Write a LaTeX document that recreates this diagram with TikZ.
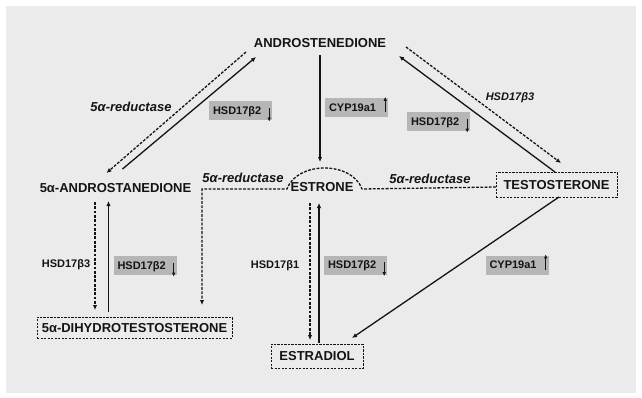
\documentclass[tikz,border=0pt]{standalone}
\usepackage{fontspec}
\setmainfont{Liberation Sans}
\usetikzlibrary{arrows.meta}
\definecolor{bg}{RGB}{235,235,235}
\definecolor{gb}{RGB}{182,182,182}
\definecolor{ink}{RGB}{20,20,20}
\tikzset{
 lbl/.style={text=ink,inner sep=0pt,font=\fontsize{13}{15}\selectfont\bfseries,text height=9.3pt,text depth=0pt},
 nbox/.style={lbl,draw=ink,line width=1pt,dash pattern=on 2.2pt off 1.3pt},
 enz/.style={text=ink,inner sep=0pt,font=\fontsize{11}{13}\selectfont\bfseries,text height=7.9pt,text depth=0pt},
 red/.style={text=ink,inner sep=0pt,font=\fontsize{13}{15}\selectfont\bfseries\itshape,text height=9.3pt,text depth=0pt},
 gbox/.style={enz,fill=gb,inner xsep=4pt,inner ysep=0pt,text width=55pt,align=left,minimum height=19pt},
 sarr/.style={draw=ink,line width=1.3pt,-{Latex[length=5pt,width=4.5pt]}},
 darr/.style={sarr,dash pattern=on 2.8pt off 1.5pt},
 tinyup/.style={draw=ink,line width=1.1pt,-{Latex[length=4pt,width=3.5pt]}},
}
\begin{document}
\begin{tikzpicture}[x=1pt,y=-1pt]
\useasboundingbox (0,0) rectangle (642,397);
\fill[bg] (6,6) rectangle (636,393);

% compounds
\node[lbl] (andro) at (320,43) {ANDROSTENEDIONE};
\node[lbl] (asd) at (115.5,188) {5α-ANDROSTANEDIONE};
\node[lbl] (estrone) at (322,187) {ESTRONE};
\node[nbox,minimum width=121pt,minimum height=25pt] (testo) at (556.5,184.5) {TESTOSTERONE};
\node[nbox,minimum width=195pt,minimum height=21pt] (dht) at (134.5,327.5) {5α-DIHYDROTESTOSTERONE};
\node[nbox,minimum width=92pt,minimum height=24pt] (estradiol) at (317,356) {ESTRADIOL};

% enzyme labels
\node[red] (r1) at (131,107) {5α-reductase};
\node[red] (r2) at (243,178) {5α-reductase};
\node[red] (r3) at (430,179) {5α-reductase};
\node[enz,font=\fontsize{11}{13}\selectfont\bfseries\itshape] (h3a) at (510,97) {HSD17β3};
\node[enz] (h3b) at (66,264) {HSD17β3};
\node[enz] (h1) at (275,265) {HSD17β1};

\node[gbox] (g1) at (240.5,110.5) {HSD17β2};
\node[gbox] (g2) at (356.5,107.5) {CYP19a1};
\node[gbox] (g3) at (438.5,121.5) {HSD17β2};
\node[gbox] (g4) at (145,265.5) {HSD17β2};
\node[gbox] (g5) at (355.5,265) {HSD17β2};
\node[gbox] (g6) at (517,265) {CYP19a1};

% small up/down arrows in the grey boxes
\foreach \g in {g1,g3,g4,g5}{
  \draw[tinyup] ([shift={(-3,-3)}]\g.east) -- ([shift={(-3,1.5)}]\g.south east);
}
\foreach \g in {g2,g6}{
  \draw[tinyup] ([shift={(-3,-5)}]\g.south east) -- ([shift={(-3,-1)}]\g.north east);
}

% reactions
\draw[darr] ([shift={(-74,9)}]andro.center) -- ([shift={(-9,-15)}]asd.center);
\draw[sarr] ([shift={(7,-19)}]asd.center) -- ([shift={(-64,14)}]andro.center);
\draw[sarr] ([shift={(0,12)}]andro.center) -- ([shift={(-2,-25)}]estrone.center);
\draw[sarr] ([shift={(-1.5,-12.5)}]testo.center) -- ([shift={(79,13)}]andro.center);
\draw[darr] ([shift={(86,4)}]andro.center) -- ([shift={(4.5,-21.5)}]testo.center);
\draw[darr] ([shift={(-20.5,14)}]asd.center) -- ([shift={(-39.5,-17.5)}]dht.center);
\draw[sarr] ([shift={(-26,-15.5)}]dht.center) -- ([shift={(-7,13)}]asd.center);
\draw[darr] ([shift={(-12,16)}]estrone.center) -- ([shift={(-7,-16)}]estradiol.center);
\draw[sarr] ([shift={(2,-13)}]estradiol.center) -- ([shift={(-3,16)}]estrone.center);
\draw[sarr] ([shift={(2.5,12.5)}]testo.center) -- ([shift={(35,-18)}]estradiol.center);
\draw[darr] ([shift={(-60.5,2.5)}]testo.center)
  -- ([shift={(40,2)}]estrone.center)
  .. controls ([shift={(30,-26)}]estrone.center) and ([shift={(-25,-26)}]estrone.center)
  .. ([shift={(-35,2)}]estrone.center)
  -- ([shift={(-120,2)}]estrone.center)
  -- ([shift={(67.5,-22.5)}]dht.center);
\end{tikzpicture}
\end{document}
